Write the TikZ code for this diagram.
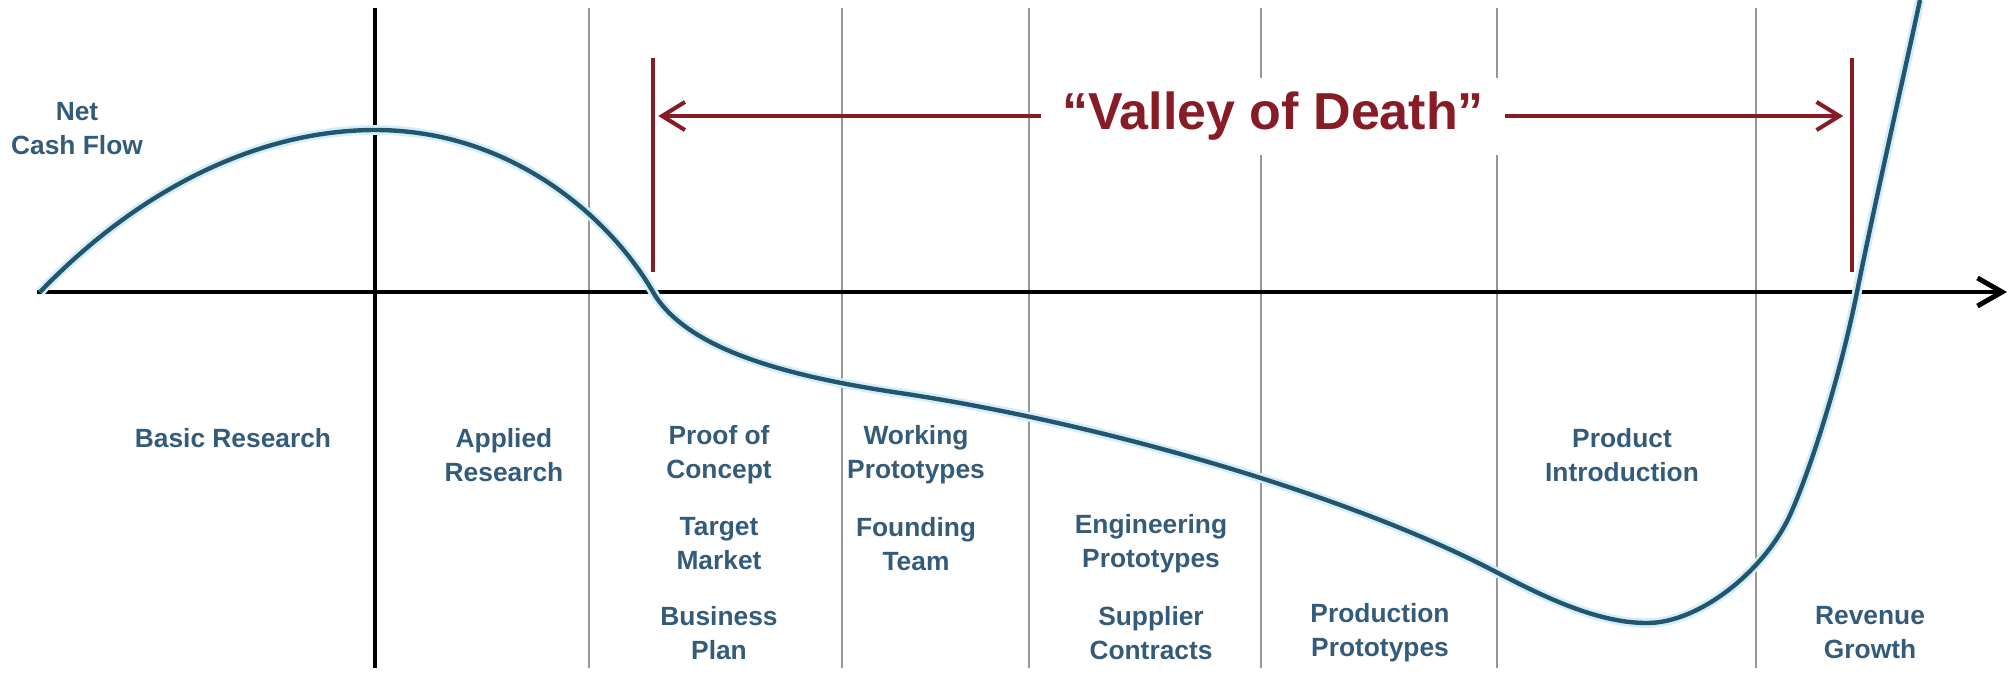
\documentclass[tikz,border=0pt]{standalone}
\usepackage{fontspec}
\setmainfont{Liberation Sans}
\usetikzlibrary{arrows.meta,positioning}
\definecolor{curveblue}{RGB}{35,85,110}
\definecolor{curveglow}{RGB}{212,238,248}
\definecolor{labelblue}{RGB}{52,92,122}
\definecolor{valleyred}{RGB}{135,28,38}
\definecolor{divgray}{RGB}{150,150,150}
\begin{document}
\begin{tikzpicture}[x=0.02cm,y=-0.02cm,node distance=1.78cm,
  stage/.style={align=center,text=labelblue,inner sep=0pt,
    font=\bfseries\fontsize{15}{19.3}\selectfont},
  divider/.style={divgray,line width=1.3pt},
  cashcurve/.style={curveblue,line width=2.5pt,
    preaction={draw,curveglow,line width=5.5pt}},
  valleybar/.style={valleyred,line width=2pt},
  valleyarrow/.style={valleyred,line width=2.3pt,
    -{Straight Barb[length=13pt,width=16pt]}}]
  \useasboundingbox (0,0) rectangle (2009,674);
  % phase dividers
  \foreach \x in {589,842,1029,1261,1497,1756}
    \draw[divider] (\x,8) -- (\x,668);
  \draw[black,line width=2pt] (375,8) -- (375,668);
  % time axis
  \coordinate (origin) at (37,292);
  \coordinate (tend) at (2007,292);
  \draw[black,line width=2.8pt,-{Straight Barb[length=14pt,width=16pt]}] (origin) -- (tend);
  % net cash flow
  \draw[cashcurve] (40,292) .. controls (140,188) and (260,130) .. (375,130)
    .. controls (515,130) and (613,222) .. (653,292)
    .. controls (688,353) and (800,378) .. (900,393)
    .. controls (1100,423) and (1350,495) .. (1498,573)
    .. controls (1550,600) and (1600,623) .. (1647,623)
    .. controls (1700,623) and (1765,570) .. (1790,515)
    .. controls (1810,471) and (1840,377) .. (1857,292)
    .. controls (1875,202) and (1905,70) .. (1920,0);
  % valley of death
  \node[fill=white,inner sep=0pt,minimum width=9.26cm,minimum height=1.54cm,
    text=valleyred,font=\bfseries\fontsize{29.6}{31}\selectfont] (vod) at (1273,116) {“Valley of Death”};
  \coordinate (lbtop) at (653,58);
  \coordinate (lbbot) at (653,272);
  \coordinate (rbtop) at (1852,58);
  \coordinate (rbbot) at (1852,272);
  \draw[valleybar] (lbtop) -- (lbbot);
  \draw[valleybar] (rbtop) -- (rbbot);
  \draw[valleyarrow,shorten >=3pt] (vod.west) -- (vod.west -| lbtop);
  \draw[valleyarrow,shorten >=5pt] (vod.east) -- (vod.east -| rbtop);
  % labels
  \node[stage] (cash) at (77,129) {Net\\Cash Flow};
  \node[stage] (basic) at (233,438) {Basic Research};
  \node[stage] (applied) at (504,455) {Applied\\Research};
  \node[stage] (proof) at (719,455) {Proof of\\Concept};
  \node[stage] (target) [below of=proof] {Target\\Market};
  \node[stage] (business) [below of=target] {Business\\Plan};
  \node[stage] (working) at (916,455) {Working\\Prototypes};
  \node[stage] (founding) [below of=working] {Founding\\Team};
  \node[stage] (engproto) at (1151,544) {Engineering\\Prototypes};
  \node[stage] (supplier) [below of=engproto] {Supplier\\Contracts};
  \node[stage] (prodproto) at (1380,633) {Production\\Prototypes};
  \node[stage] (intro) at (1622,455) {Product\\Introduction};
  \node[stage] (revenue) at (1870,633) {Revenue\\Growth};
\end{tikzpicture}
\end{document}
